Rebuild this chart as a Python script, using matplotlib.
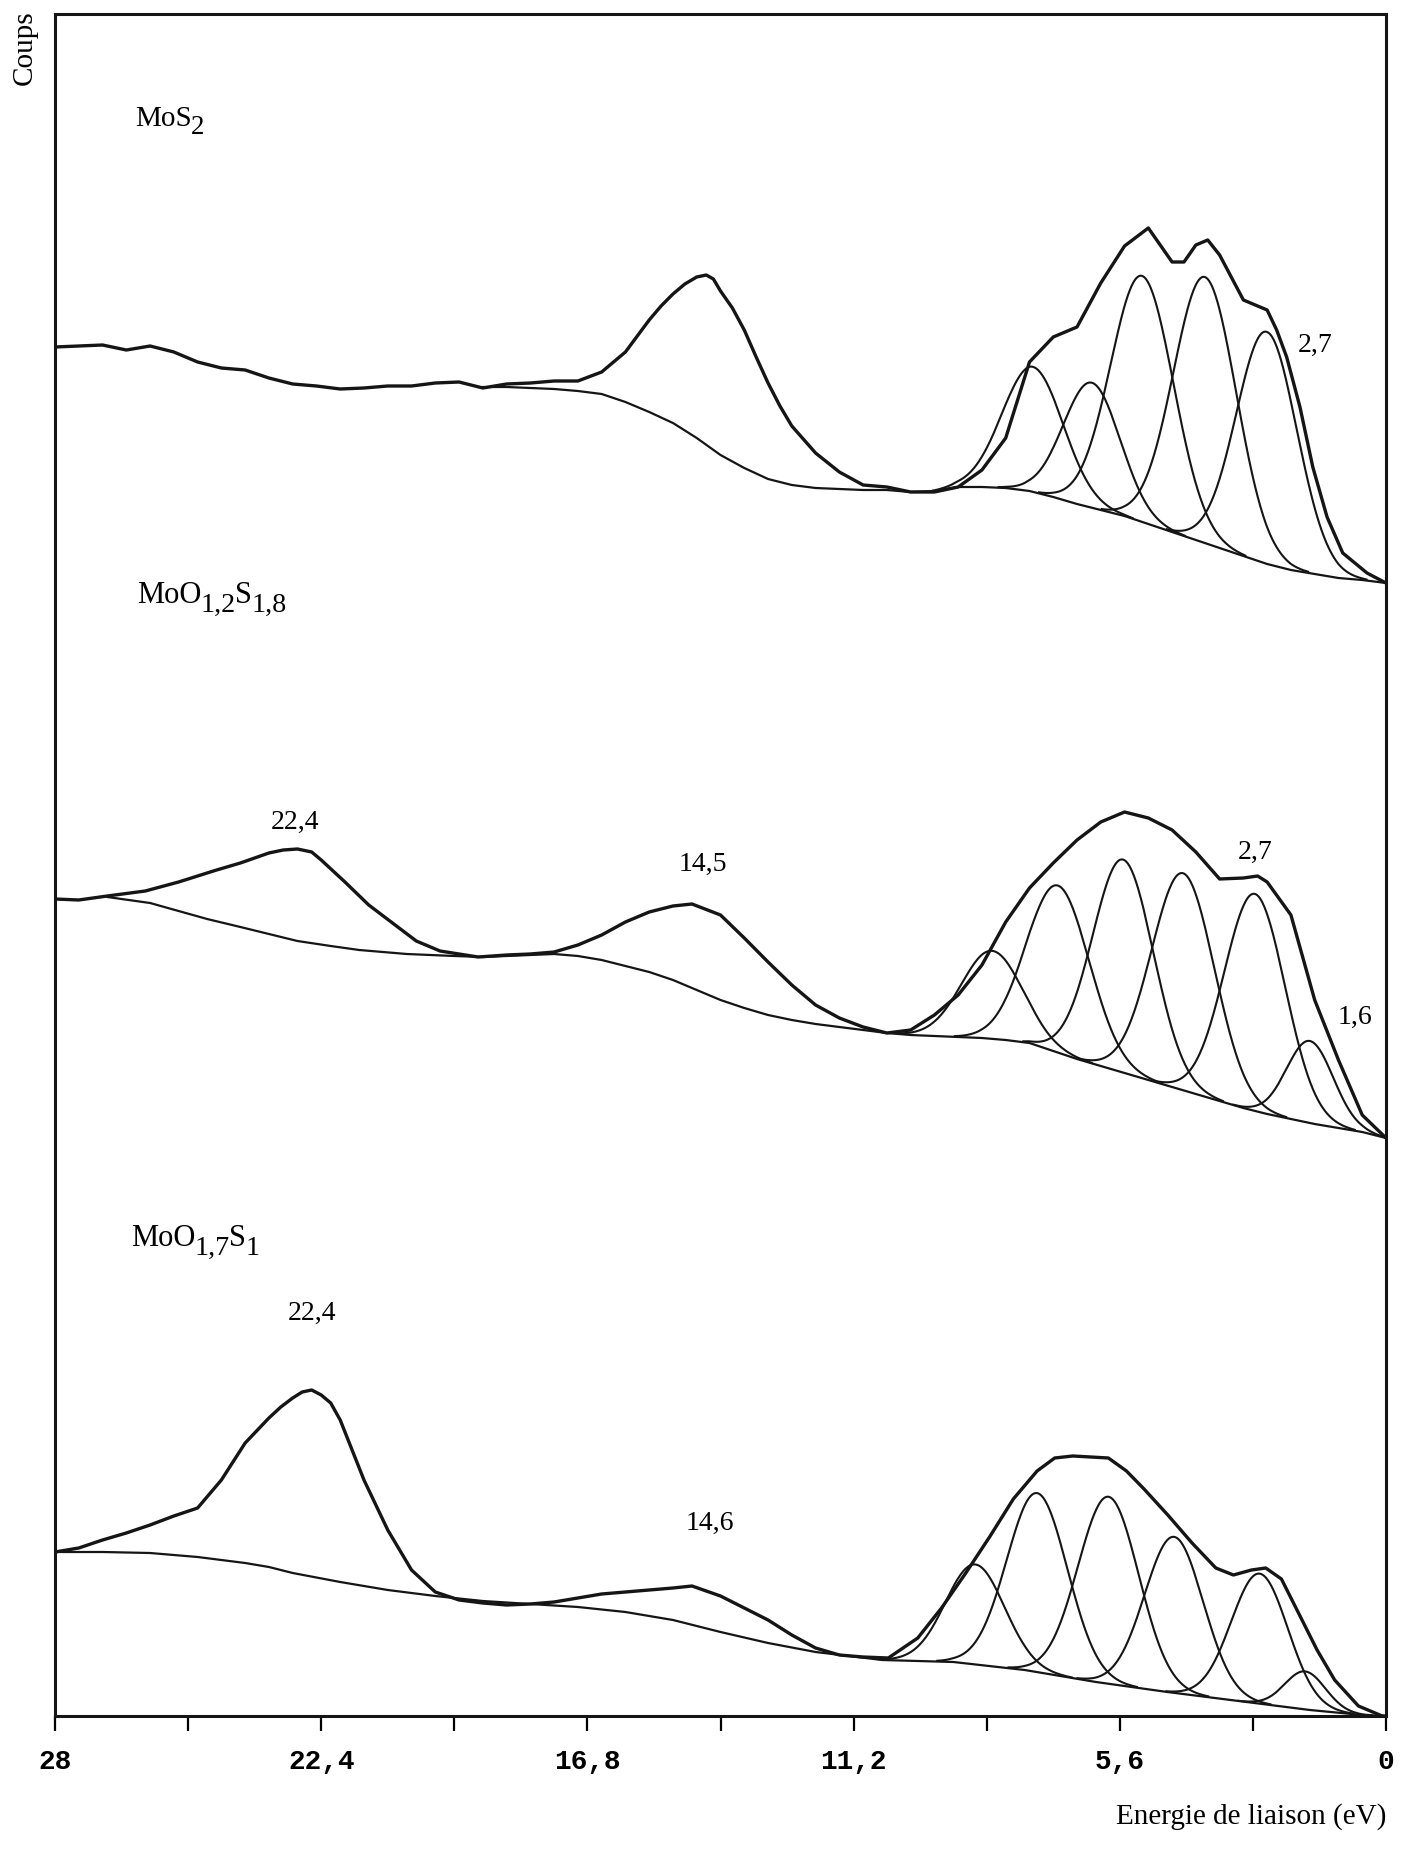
import numpy as np
import matplotlib.pyplot as plt
from matplotlib.ticker import FixedLocator

# --- MoS2 (top) ---
mos2_e = [28, 27.5, 27, 26.5, 26, 25.5, 25, 24.5, 24, 23.5, 23, 22.5, 22, 21.5, 21, 20.5, 20,
          19.5, 19, 18.5, 18, 17.5, 17, 16.5, 16, 15.5, 15.25, 15, 14.75, 14.5, 14.3, 14.15, 14,
          13.75, 13.5, 13.25, 13, 12.75, 12.5, 12, 11.5, 11, 10.5, 10, 9.5, 9, 8.5, 8, 7.5, 7,
          6.5, 6, 5.5, 5, 4.5, 4.25, 4, 3.75, 3.5, 3, 2.75, 2.5, 2.3, 2.09, 1.81, 1.54, 1.24,
          0.91, 0.4, 0]
mos2_c = [1416, 1417, 1418, 1413, 1417, 1411, 1401, 1395, 1393, 1385, 1379, 1377, 1374, 1375,
          1377, 1377, 1380, 1381, 1375, 1379, 1380, 1382, 1382, 1391, 1411, 1443, 1457, 1469,
          1479, 1486, 1488, 1484, 1472, 1455, 1433, 1406, 1380, 1357, 1337, 1310, 1291, 1278,
          1276, 1271, 1271, 1276, 1293, 1325, 1401, 1426, 1436, 1480, 1517, 1535, 1501, 1501,
          1518, 1523, 1508, 1463, 1458, 1453, 1433, 1406, 1356, 1296, 1246, 1210, 1190, 1180]
mos2_bg_e = [19, 18.5, 18, 17.5, 17, 16.5, 16, 15.5, 15, 14.5, 14, 13.5, 13, 12.5, 12, 11.5, 11,
             10.5, 10, 9.5, 9, 8.5, 8, 7.5, 7, 6.5, 6, 5.5, 5, 4.5, 4, 3.5, 3, 2.5, 2, 1.5, 1,
             0.5, 0]
mos2_bg_c = [1376, 1376, 1375, 1374, 1372, 1369, 1361, 1351, 1340, 1325, 1308, 1295, 1284, 1278,
             1275, 1274, 1273, 1273, 1271, 1272, 1276, 1276, 1275, 1272, 1266, 1259, 1253, 1247,
             1239, 1231, 1223, 1215, 1207, 1199, 1193, 1189, 1185, 1183, 1180]
mos2_pk_e = [7.43, 6.19, 5.13, 3.81, 2.51]
mos2_pk_h = [125, 125, 246, 266, 232]
mos2_pk_w = [1.5, 1.4, 1.55, 1.55, 1.5]

# --- MoO1,2S1,8 (middle) ---
mo12_e = [28, 27.5, 26.9, 26.1, 25.4, 24.6, 24.1, 23.5, 23.2, 22.9, 22.6, 22.4, 21.9, 21.4,
          20.9, 20.4, 19.9, 19.1, 18.5, 18, 17.5, 17, 16.5, 16, 15.5, 15, 14.6, 14, 13.5, 13,
          12.5, 12, 11.5, 11, 10.5, 10, 9.5, 9, 8.5, 8, 7.5, 7, 6.5, 6, 5.5, 5, 4.5, 4, 3.5, 3,
          2.7, 2.5, 2, 1.5, 1, 0.5, 0]
mo12_c = [864, 863, 867, 872, 881, 893, 900, 910, 913, 914, 911, 903, 881, 858, 840, 822, 812,
          806, 808, 809, 811, 818, 828, 841, 851, 857, 859, 848, 825, 801, 778, 758, 745, 736,
          730, 733, 748, 768, 798, 841, 875, 900, 923, 941, 951, 945, 933, 911, 884, 885, 887,
          881, 848, 763, 703, 648, 625]
mo12_bg_e = [26.9, 26, 25.4, 24.8, 24.1, 23.5, 22.9, 22.2, 21.6, 20.6, 19.6, 19, 18, 17.5, 17,
             16.5, 16, 15.5, 15, 14.5, 14, 13.5, 13, 12.5, 12, 11.5, 11, 10.5, 10, 9.5, 9, 8.5,
             8, 7.5, 7, 6.5, 6, 5.5, 5, 4.5, 4, 3.5, 3, 2.5, 2, 1.5, 1, 0.5, 0]
mo12_bg_c = [866, 860, 852, 844, 836, 829, 822, 817, 813, 809, 807, 806, 808, 809, 807, 803,
             797, 791, 783, 773, 763, 755, 748, 743, 739, 736, 733, 730, 728, 727, 726, 725,
             723, 720, 712, 704, 697, 690, 683, 676, 669, 662, 655, 649, 644, 639, 635, 631, 625]
mo12_pk_e = [8.29, 6.90, 5.53, 4.27, 2.76, 1.60]
mo12_pk_h = [88, 167, 213, 217, 217, 82]
mo12_pk_w = [1.5, 1.55, 1.5, 1.55, 1.5, 1.15]

# --- MoO1,7S1 (bottom) ---
mo17_e = [28, 27.5, 27, 26.5, 26, 25.5, 25, 24.5, 24, 23.5, 23.25, 23, 22.8, 22.6, 22.4, 22.2,
          22, 21.5, 21, 20.5, 20, 19.5, 19, 18.5, 18, 17.5, 17, 16.5, 16, 15.5, 15, 14.6, 14,
          13.5, 13, 12.5, 12, 11.5, 11.0, 10.47, 9.85, 9.35, 8.84, 8.34, 7.84, 7.34, 6.97,
          6.59, 6.21, 5.84, 5.46, 5.09, 4.59, 4.08, 3.58, 3.21, 2.83, 2.53, 2.20, 1.83, 1.45,
          1.08, 0.58, 0.08, 0]
mo17_c = [211, 215, 223, 230, 238, 247, 255, 283, 320, 345, 356, 365, 371, 373, 368, 360, 343,
          283, 233, 193, 171, 163, 160, 158, 159, 161, 165, 169, 171, 173, 175, 177, 167, 155,
          143, 128, 115, 108, 106, 105, 125, 155, 190, 226, 264, 292, 305, 307, 306, 305, 292,
          274, 248, 220, 195, 188, 193, 195, 184, 149, 113, 83, 57, 47, 47]
mo17_bg_e = [28, 27, 26, 25, 24, 23.5, 23, 22, 21, 20, 19, 18, 17, 16, 15, 14, 13, 12, 11.3,
             10.6, 9.1, 7.6, 6.1, 4.6, 3.1, 1.6, 0.5, 0]
mo17_bg_c = [211, 211, 210, 206, 200, 196, 190, 181, 173, 167, 162, 159, 156, 151, 143, 131,
             120, 111, 107, 103, 101, 93, 81, 71, 62, 53, 48, 47]
mo17_pk_e = [8.64, 7.34, 5.84, 4.46, 2.66, 1.70]
mo17_pk_h = [100, 179, 187, 156, 130, 38]
mo17_pk_w = [1.45, 1.5, 1.5, 1.45, 1.4, 1.0]

tick_pos = [28, 22.4, 16.8, 11.2, 5.6, 0]
tick_lab = ['28', '22,4', '16,8', '11,2', '5,6', '0']
minor_pos = [25.2, 19.6, 14.0, 8.4, 2.8]

spectra = [
    (mos2_e, mos2_c, mos2_bg_e, mos2_bg_c, mos2_pk_e, mos2_pk_h, mos2_pk_w),
    (mo12_e, mo12_c, mo12_bg_e, mo12_bg_c, mo12_pk_e, mo12_pk_h, mo12_pk_w),
    (mo17_e, mo17_c, mo17_bg_e, mo17_bg_c, mo17_pk_e, mo17_pk_h, mo17_pk_w),
]

fig = plt.figure(figsize=(14.07, 18.68), dpi=100)
ax = fig.add_axes([55 / 1407, 152 / 1868, 1331 / 1407, 1702 / 1868])
ink = '#151515'

for env_e, env_c, bg_e, bg_c, pk_e, pk_h, pk_w in spectra:
    ax.plot(env_e, env_c, color=ink, lw=2.4, solid_joinstyle='round')
    ax.plot(bg_e, bg_c, color=ink, lw=1.6)
    be = np.array(bg_e[::-1], dtype=float)
    bc = np.array(bg_c[::-1], dtype=float)
    for c, h, w in zip(pk_e, pk_h, pk_w):
        e = np.linspace(c - 1.4 * w, c + 1.4 * w, 300)
        e = e[(e >= 0) & (e <= 28)]
        g = h * np.exp(-4 * np.log(2) * (e - c) ** 2 / w ** 2)
        ax.plot(e, np.interp(e, be, bc) + g, color=ink, lw=1.5)

ax.set_xlim(28, 0)
ax.set_ylim(47, 1749)
ax.yaxis.set_visible(False)
ax.xaxis.set_major_locator(FixedLocator(tick_pos))
ax.xaxis.set_minor_locator(FixedLocator(minor_pos))
ax.set_xticklabels(tick_lab, family='Liberation Mono', weight='bold', fontsize=20)
ax.tick_params(axis='x', which='both', direction='out', length=11, width=1.6, pad=13)
for s in ax.spines.values():
    s.set_linewidth(2.2)
    s.set_color(ink)

serif = 'Liberation Serif'


def chem_label(x, y, parts, size=22):
    # write a formula piece by piece, lowering the index parts
    prev = ax.text(x, y, parts[0][0], family=serif, fontsize=size, ha='left', va='baseline')
    prev_sub = False
    for txt, sub in parts[1:]:
        dy = 0
        if sub and not prev_sub:
            dy = -6
        elif prev_sub and not sub:
            dy = 6
        prev = ax.annotate(txt, xy=(1, 0), xycoords=prev, xytext=(-0.5, dy),
                           textcoords='offset points', family=serif,
                           fontsize=size * (0.92 if sub else 1), ha='left', va='bottom')
        prev_sub = sub


chem_label(26.32, 1637, [('MoS', False), ('2', True)], size=21)
chem_label(26.28, 1160, [('MoO', False), ('1,2', True), ('S', False), ('1,8', True)])
chem_label(26.4, 517, [('MoO', False), ('1,7', True), ('S', False), ('1', True)])

peak_labels = [('2,7', 1.50, 1418), ('22,4', 22.95, 941), ('14,5', 14.37, 899),
               ('2,7', 2.76, 911), ('1,6', 0.65, 746), ('22,4', 22.6, 450), ('14,6', 14.22, 240)]
for txt, e, c in peak_labels:
    ax.text(e, c, txt, family=serif, fontsize=20, ha='center', va='center')

fig.text(1386 / 1407, 1 - 1817 / 1868, 'Energie de liaison (eV)', family=serif, fontsize=21,
         ha='right', va='center')
fig.text(25 / 1407, 1 - 10 / 1868, 'Coups', family=serif, fontsize=21, rotation=90,
         ha='center', va='top')

fig.savefig('out.png', dpi=100)
